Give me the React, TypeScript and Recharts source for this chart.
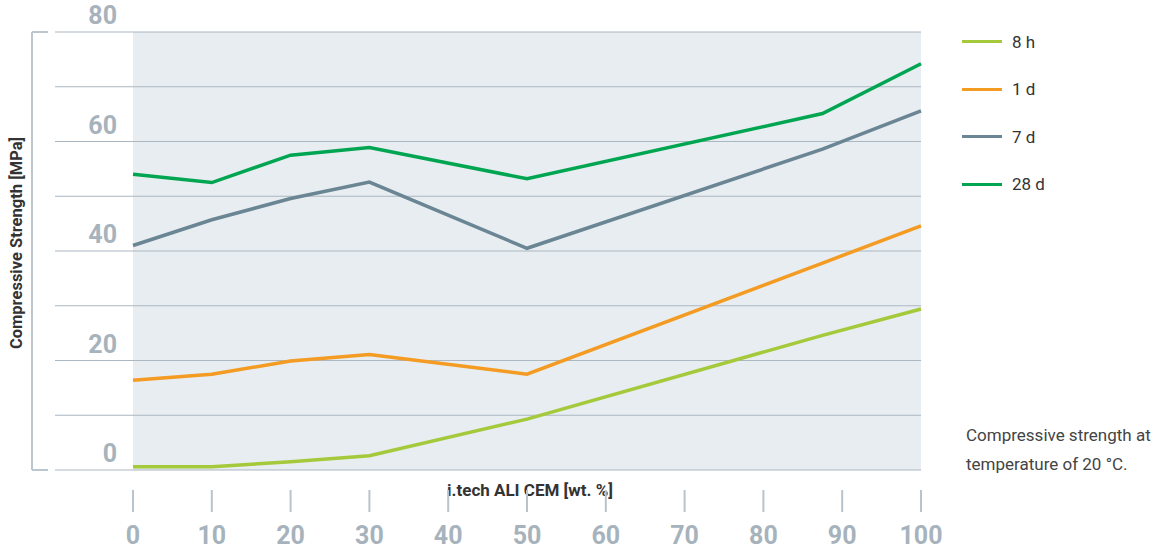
import { LineChart, Line, XAxis, YAxis, CartesianGrid } from "recharts"

// wt. % of i.tech ALI CEM
const dosage = [0, 10, 20, 30, 50, 87.5, 100]

// compressive strength in MPa
const strength8h = [0.6, 0.6, 1.5, 2.6, 9.3, 24.6, 29.4]
const strength1d = [16.4, 17.5, 19.9, 21.1, 17.5, 37.8, 44.6]
const strength7d = [41.0, 45.7, 49.6, 52.6, 40.5, 58.6, 65.6]
const strength28d = [54.0, 52.5, 57.5, 58.9, 53.2, 65.1, 74.2]

const xTicks = [0, 10, 20, 30, 40, 50, 60, 70, 80, 90, 100]
const yTicks = [0, 10, 20, 30, 40, 50, 60, 70, 80]

const series = [
  { key: "h8", name: "8 h", color: "#a4c93a" },
  { key: "d1", name: "1 d", color: "#f39b22" },
  { key: "d7", name: "7 d", color: "#6a8593" },
  { key: "d28", name: "28 d", color: "#00a551" },
]

const data = dosage.map((x, i) => ({
  x,
  h8: strength8h[i],
  d1: strength1d[i],
  d7: strength7d[i],
  d28: strength28d[i],
}))

const W = 1157
const H = 550
const TOP = 32
const PLOT_LEFT = 133
const GRID_LEFT = 55
const BRACKET_X = 32
const X_AXIS_H = 80
const PLOT_BOTTOM = H - X_AXIS_H

const FONT = "Roboto, sans-serif"
const GRID = "#abb7c1"
const TICK_GREY = "#a7b3bc"

function YTick({ y, payload }) {
  const v = payload.value
  return (
    <g>
      <line x1={GRID_LEFT} x2={PLOT_LEFT} y1={y} y2={y} stroke={GRID} strokeWidth={1} />
      {(v === 0 || v === 80) && (
        <line x1={BRACKET_X} x2={BRACKET_X + 16} y1={y} y2={y} stroke="#bcc6ce" strokeWidth={2} />
      )}
      {v === 0 && (
        <line x1={BRACKET_X} x2={BRACKET_X} y1={y} y2={TOP} stroke="#bcc6ce" strokeWidth={2} />
      )}
      {v % 20 === 0 && (
        <text x={117} y={y - 8} textAnchor="end" fill={TICK_GREY} fontFamily={FONT} fontWeight="bold" fontSize={25}>
          {v}
        </text>
      )}
    </g>
  )
}

function XTick({ x, payload }) {
  return (
    <g>
      <line x1={x} x2={x} y1={PLOT_BOTTOM + 20} y2={PLOT_BOTTOM + 42} stroke="#b9c3cb" strokeWidth={2} />
      <text x={x} y={PLOT_BOTTOM + 74} textAnchor="middle" fill={TICK_GREY} fontFamily={FONT} fontWeight="bold" fontSize={25}>
        {payload.value}
      </text>
    </g>
  )
}

function XLabel() {
  return (
    <g>
      <rect x={440} y={PLOT_BOTTOM + 8} width={180} height={21} fill="#fff" />
      <text
        x={530}
        y={PLOT_BOTTOM + 26}
        textAnchor="middle"
        fill="#333"
        fontFamily={FONT}
        fontWeight="bold"
        fontSize={17}
      >
        i.tech ALI CEM [wt. %]
      </text>
    </g>
  )
}

function YLabel() {
  return (
    <text
      x={22}
      y={243}
      transform="rotate(-90 22 243)"
      textAnchor="middle"
      fill="#333"
      fontFamily={FONT}
      fontWeight="bold"
      fontSize={16.5}
    >
      Compressive Strength [MPa]
    </text>
  )
}

export default function App() {
  return (
    <div style={{ position: "relative", width: W, height: H, background: "#fff" }}>
      <style>{"body{margin:0}"}</style>
      <LineChart width={W} height={H} data={data} margin={{ top: TOP, right: W - 921, bottom: 0, left: 33 }}>
        <CartesianGrid horizontal vertical={false} fill="#e8edf1" stroke={GRID} strokeWidth={1} />
        <XAxis
          dataKey="x"
          type="number"
          domain={[0, 100]}
          ticks={xTicks}
          height={X_AXIS_H}
          axisLine={false}
          tickLine={false}
          tick={<XTick />}
          label={{ content: () => <XLabel /> }}
        />
        <YAxis
          type="number"
          domain={[0, 80]}
          ticks={yTicks}
          width={100}
          axisLine={false}
          tickLine={false}
          tick={<YTick />}
          label={{ content: () => <YLabel /> }}
        />
        {series.map((s) => (
          <Line
            key={s.key}
            dataKey={s.key}
            name={s.name}
            stroke={s.color}
            strokeWidth={3.5}
            dot={false}
            type="linear"
            isAnimationActive={false}
          />
        ))}
      </LineChart>
      <div style={{ position: "absolute", left: 962, top: 18, fontFamily: FONT, fontSize: 17, color: "#333" }}>
        {series.map((s) => (
          <div key={s.key} style={{ display: "flex", alignItems: "center", height: 47.5 }}>
            <span style={{ display: "inline-block", width: 40, height: 3, background: s.color, marginRight: 10 }} />
            {s.name}
          </div>
        ))}
      </div>
      <div
        style={{
          position: "absolute",
          left: 966,
          top: 421,
          fontFamily: FONT,
          fontSize: 17,
          lineHeight: "29px",
          color: "#444",
          whiteSpace: "nowrap",
        }}
      >
        Compressive strength at
        <br />
        temperature of 20 °C.
      </div>
    </div>
  )
}
